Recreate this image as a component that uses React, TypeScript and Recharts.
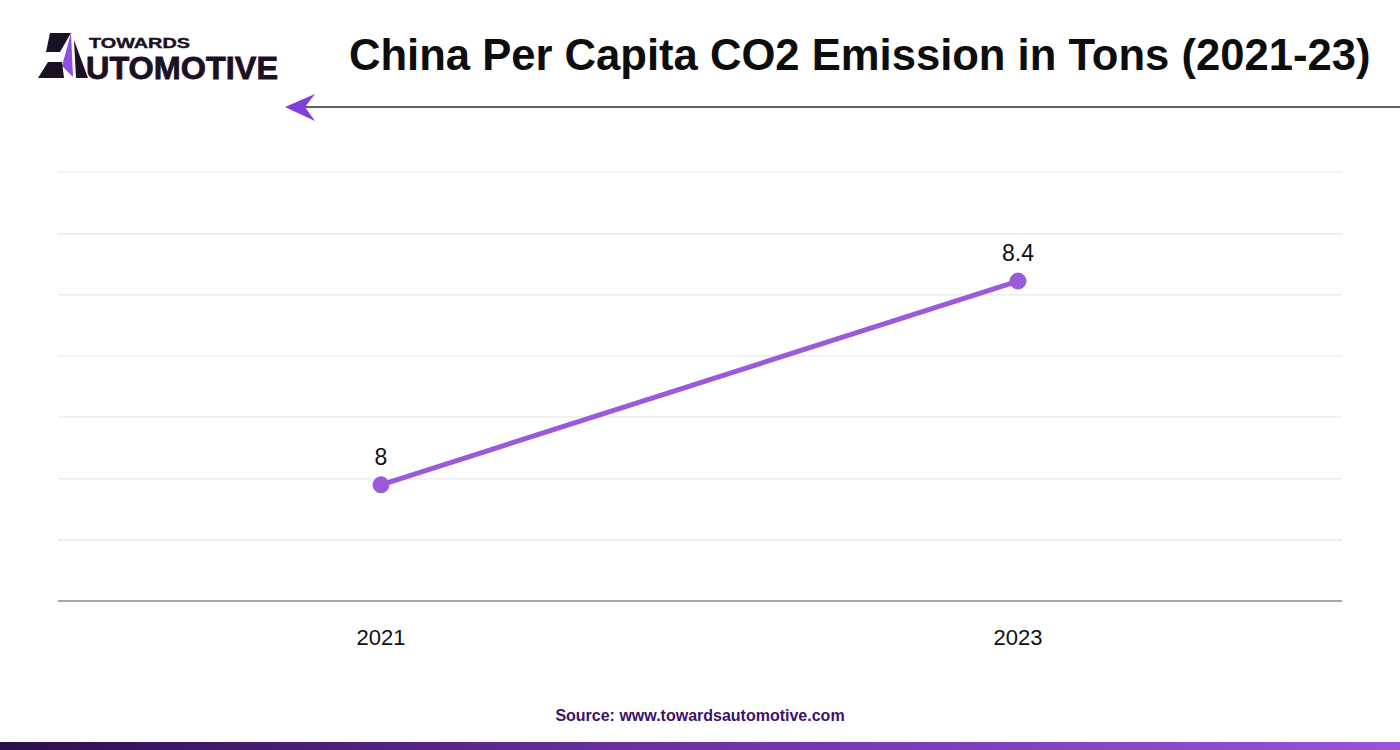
import { LineChart, Line, XAxis, YAxis, CartesianGrid, LabelList } from 'recharts';

const YEARS = ['2021', '2023'];
const EMISSIONS = [8, 8.4];
const Y_TICKS = [7.772, 7.892, 8.012, 8.133, 8.253, 8.373, 8.493, 8.614];

const chartData = YEARS.map((year, i) => ({ year, value: EMISSIONS[i] }));

const FONT = '"Liberation Sans", Arial, Helvetica, sans-serif';
const PURPLE = '#9b59dc';

function Logo() {
    return (
        <svg width={300} height={90} style={{ position: 'absolute', left: 0, top: 20 }}>
            <g transform="translate(0,-20)">
                <polygon points="50,33 71,33 60,52 46,52" fill="#1b1024" />
                <polygon points="71,33 73,77 62,66" fill="#8f4fe0" />
                <polygon points="38,78 48,62 62,62 64,78" fill="#1b1024" />
                <polygon points="74,40 88,78 76,78" fill="#1b1024" />
                <text x={89} y={47.5} fontFamily={FONT} fontWeight={900} fontSize={15} fill="#1b1024" textLength={101} lengthAdjust="spacingAndGlyphs" stroke="#1b1024" strokeWidth={0.4}>
                    TOWARDS
                </text>
                <text x={86} y={79} fontFamily={FONT} fontWeight={900} fontSize={31} fill="#1b1024" textLength={192} lengthAdjust="spacingAndGlyphs" stroke="#1b1024" strokeWidth={0.8}>
                    UTOMOTIVE
                </text>
            </g>
        </svg>
    );
}

function Header() {
    return (
        <>
            <Logo />
            <div
                style={{
                    position: 'absolute',
                    left: 349,
                    top: 31,
                    width: 1040,
                    fontFamily: FONT,
                    fontWeight: 700,
                    fontSize: 43.6,
                    color: '#0d0d0d',
                    whiteSpace: 'nowrap',
                }}
            >
                China Per Capita CO2 Emission in Tons (2021-23)
            </div>
            <svg width={1400} height={40} style={{ position: 'absolute', left: 0, top: 88 }}>
                <line x1={300} y1={19} x2={1400} y2={19} stroke="#2b2b2b" strokeWidth={1.5} />
                <polygon points="285,19 315,6 305,19 315,33" fill="#7f3fd8" />
            </svg>
        </>
    );
}

export default function App() {
    return (
        <div style={{ position: 'absolute', left: 0, top: 0, width: 1400, height: 750, background: '#fff', overflow: 'hidden' }}>
            <Header />
            <div style={{ position: 'absolute', left: 0, top: 0 }}>
                <LineChart
                    width={1400}
                    height={700}
                    data={chartData}
                    margin={{ top: 172, right: 58, left: 58, bottom: 39 }}
                >
                    <CartesianGrid vertical={false} stroke="#ececec" strokeWidth={1.5} />
                    <XAxis
                        dataKey="year"
                        height={60}
                        padding={{ left: 323, right: 324 }}
                        axisLine={{ stroke: '#8a8a8a', strokeWidth: 1.5 }}
                        tickLine={false}
                        tickMargin={22}
                        tick={{ fill: '#111', fontSize: 22, fontFamily: FONT }}
                    />
                    <YAxis hide domain={[Y_TICKS[0], Y_TICKS[Y_TICKS.length - 1]]} ticks={Y_TICKS} />
                    <Line
                        type="linear"
                        dataKey="value"
                        stroke={PURPLE}
                        strokeWidth={5}
                        dot={{ r: 8, fill: PURPLE, stroke: PURPLE, strokeWidth: 1 }}
                        isAnimationActive={false}
                    >
                        <LabelList dataKey="value" position="top" offset={20} fill="#111" fontSize={23} fontFamily={FONT} />
                    </Line>
                </LineChart>
            </div>
            <div
                style={{
                    position: 'absolute',
                    left: 0,
                    top: 707,
                    width: 1400,
                    textAlign: 'center',
                    fontFamily: FONT,
                    fontWeight: 700,
                    fontSize: 16,
                    color: '#3b136e',
                }}
            >
                Source: www.towardsautomotive.com
            </div>
            <div
                style={{
                    position: 'absolute',
                    left: 0,
                    top: 742,
                    width: 1400,
                    height: 8,
                    background: 'linear-gradient(90deg, #2a0f4c 0%, #6a2fa0 45%, #9c52d9 100%)',
                }}
            />
        </div>
    );
}
